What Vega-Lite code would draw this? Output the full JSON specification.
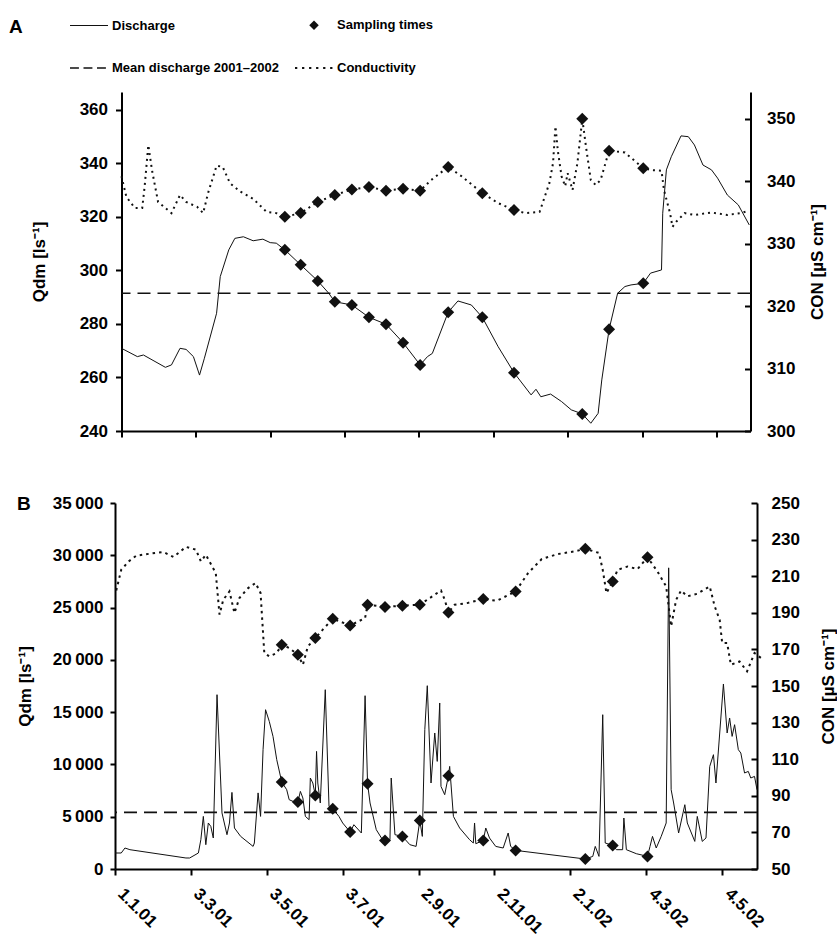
{
  "$schema": "https://vega.github.io/schema/vega-lite/v6.json",
  "background": "white",
  "autosize": {"type": "pad"},
  "padding": {"left": 9, "top": 5, "right": 0, "bottom": 0},
  "config": {
    "view": {"stroke": null},
    "font": "Liberation Sans",
    "axis": {
      "labelFont": "Liberation Sans", "labelFontSize": 17, "labelFontWeight": "bold", "labelColor": "black",
      "titleFont": "Liberation Sans", "titleFontSize": 17, "titleFontWeight": "bold", "titleColor": "black",
      "domainColor": "black", "domainWidth": 2, "tickColor": "black", "tickWidth": 2,
      "grid": false, "labelFlush": false, "labelOverlap": false
    },
    "title": {"font": "Liberation Sans", "fontSize": 19, "fontWeight": "bold", "color": "black"}
  },
  "datasets": {
    "qA": [
      {"date": "2001-01-01", "Q": 270.9}, {"date": "2001-01-14", "Q": 267.8}, {"date": "2001-01-19", "Q": 268.4},
      {"date": "2001-02-06", "Q": 263.8}, {"date": "2001-02-11", "Q": 264.7}, {"date": "2001-02-18", "Q": 270.9},
      {"date": "2001-02-23", "Q": 270.5}, {"date": "2001-03-01", "Q": 267.8}, {"date": "2001-03-06", "Q": 260.9},
      {"date": "2001-03-10", "Q": 267.2}, {"date": "2001-03-20", "Q": 284.0}, {"date": "2001-03-23", "Q": 297.7},
      {"date": "2001-03-30", "Q": 307.7}, {"date": "2001-04-04", "Q": 312.0}, {"date": "2001-04-11", "Q": 312.6},
      {"date": "2001-04-19", "Q": 311.1}, {"date": "2001-04-27", "Q": 311.7}, {"date": "2001-05-03", "Q": 310.4},
      {"date": "2001-05-08", "Q": 310.2}, {"date": "2001-05-15", "Q": 307.7}, {"date": "2001-05-28", "Q": 302.1},
      {"date": "2001-06-11", "Q": 296.1}, {"date": "2001-06-20", "Q": 291.5}, {"date": "2001-06-25", "Q": 288.3},
      {"date": "2001-07-09", "Q": 287.1}, {"date": "2001-07-23", "Q": 282.5}, {"date": "2001-08-06", "Q": 279.9},
      {"date": "2001-08-20", "Q": 273.0}, {"date": "2001-09-03", "Q": 264.7}, {"date": "2001-09-09", "Q": 267.8},
      {"date": "2001-09-13", "Q": 269.0}, {"date": "2001-09-26", "Q": 284.4}, {"date": "2001-10-04", "Q": 288.6},
      {"date": "2001-10-15", "Q": 287.1}, {"date": "2001-10-24", "Q": 282.5}, {"date": "2001-11-06", "Q": 271.5},
      {"date": "2001-11-19", "Q": 261.8}, {"date": "2001-12-03", "Q": 253.5}, {"date": "2001-12-07", "Q": 255.6},
      {"date": "2001-12-11", "Q": 252.8}, {"date": "2001-12-19", "Q": 253.8}, {"date": "2001-12-28", "Q": 251.0},
      {"date": "2002-01-05", "Q": 247.9}, {"date": "2002-01-14", "Q": 246.4}, {"date": "2002-01-21", "Q": 242.9},
      {"date": "2002-01-27", "Q": 246.6}, {"date": "2002-01-30", "Q": 259.1}, {"date": "2002-02-05", "Q": 278.0},
      {"date": "2002-02-12", "Q": 291.5}, {"date": "2002-02-18", "Q": 294.0}, {"date": "2002-02-23", "Q": 294.6},
      {"date": "2002-03-05", "Q": 295.2}, {"date": "2002-03-11", "Q": 299.0}, {"date": "2002-03-20", "Q": 300.2},
      {"date": "2002-03-21", "Q": 321.4}, {"date": "2002-03-24", "Q": 337.6}, {"date": "2002-03-28", "Q": 342.5},
      {"date": "2002-04-05", "Q": 350.3}, {"date": "2002-04-11", "Q": 350.0}, {"date": "2002-04-16", "Q": 346.9},
      {"date": "2002-04-23", "Q": 339.4}, {"date": "2002-04-30", "Q": 337.6}, {"date": "2002-05-05", "Q": 334.5},
      {"date": "2002-05-13", "Q": 328.2}, {"date": "2002-05-22", "Q": 324.5}, {"date": "2002-05-31", "Q": 317.0}
    ],
    "conA": [
      {"date": "2001-01-01", "CON": 340.8}, {"date": "2001-01-05", "CON": 337.5}, {"date": "2001-01-12", "CON": 335.7},
      {"date": "2001-01-18", "CON": 335.7}, {"date": "2001-01-20", "CON": 339.2}, {"date": "2001-01-23", "CON": 345.8},
      {"date": "2001-01-26", "CON": 341.8}, {"date": "2001-01-31", "CON": 336.7}, {"date": "2001-02-11", "CON": 334.9},
      {"date": "2001-02-18", "CON": 337.8}, {"date": "2001-02-23", "CON": 336.7}, {"date": "2001-03-04", "CON": 335.9},
      {"date": "2001-03-09", "CON": 334.9}, {"date": "2001-03-13", "CON": 338.1}, {"date": "2001-03-20", "CON": 342.5},
      {"date": "2001-03-25", "CON": 342.3}, {"date": "2001-03-31", "CON": 339.7}, {"date": "2001-04-08", "CON": 338.4},
      {"date": "2001-04-19", "CON": 337.2}, {"date": "2001-04-30", "CON": 335.1}, {"date": "2001-05-08", "CON": 334.9},
      {"date": "2001-05-15", "CON": 334.3}, {"date": "2001-05-28", "CON": 334.9}, {"date": "2001-06-11", "CON": 336.7},
      {"date": "2001-06-25", "CON": 337.8}, {"date": "2001-07-09", "CON": 338.7}, {"date": "2001-07-23", "CON": 339.1},
      {"date": "2001-08-06", "CON": 338.5}, {"date": "2001-08-20", "CON": 338.8}, {"date": "2001-09-03", "CON": 338.5},
      {"date": "2001-09-12", "CON": 340.2}, {"date": "2001-09-26", "CON": 342.3}, {"date": "2001-10-07", "CON": 340.8},
      {"date": "2001-10-24", "CON": 338.1}, {"date": "2001-11-06", "CON": 336.5}, {"date": "2001-11-19", "CON": 335.4},
      {"date": "2001-11-28", "CON": 334.9}, {"date": "2001-12-10", "CON": 335.1}, {"date": "2001-12-18", "CON": 339.7},
      {"date": "2001-12-21", "CON": 342.9}, {"date": "2001-12-23", "CON": 348.8}, {"date": "2001-12-25", "CON": 344.8},
      {"date": "2001-12-28", "CON": 340.8}, {"date": "2001-12-31", "CON": 339.2}, {"date": "2002-01-02", "CON": 341.3},
      {"date": "2002-01-06", "CON": 338.6}, {"date": "2002-01-10", "CON": 342.9}, {"date": "2002-01-14", "CON": 350.0},
      {"date": "2002-01-17", "CON": 345.6}, {"date": "2002-01-21", "CON": 340.2}, {"date": "2002-01-25", "CON": 339.4},
      {"date": "2002-01-29", "CON": 340.2}, {"date": "2002-02-05", "CON": 344.9}, {"date": "2002-02-18", "CON": 344.6},
      {"date": "2002-03-05", "CON": 342.1}, {"date": "2002-03-11", "CON": 341.8}, {"date": "2002-03-20", "CON": 341.7},
      {"date": "2002-03-22", "CON": 338.6}, {"date": "2002-03-27", "CON": 334.9}, {"date": "2002-03-29", "CON": 332.7},
      {"date": "2002-04-01", "CON": 333.5}, {"date": "2002-04-08", "CON": 334.9}, {"date": "2002-04-16", "CON": 334.6},
      {"date": "2002-04-30", "CON": 335.0}, {"date": "2002-05-13", "CON": 334.6}, {"date": "2002-05-24", "CON": 334.9},
      {"date": "2002-05-31", "CON": 335.3}
    ],
    "sampA": [
      {"date": "2001-05-15", "Q": 307.7, "CON": 334.3}, {"date": "2001-05-28", "Q": 302.1, "CON": 334.9},
      {"date": "2001-06-11", "Q": 296.1, "CON": 336.7}, {"date": "2001-06-25", "Q": 288.3, "CON": 337.8},
      {"date": "2001-07-09", "Q": 287.1, "CON": 338.7}, {"date": "2001-07-23", "Q": 282.5, "CON": 339.1},
      {"date": "2001-08-06", "Q": 279.9, "CON": 338.5}, {"date": "2001-08-20", "Q": 273.0, "CON": 338.8},
      {"date": "2001-09-03", "Q": 264.7, "CON": 338.5}, {"date": "2001-09-26", "Q": 284.4, "CON": 342.3},
      {"date": "2001-10-24", "Q": 282.5, "CON": 338.1}, {"date": "2001-11-19", "Q": 261.8, "CON": 335.4},
      {"date": "2002-01-14", "Q": 246.4, "CON": 350.0}, {"date": "2002-02-05", "Q": 278.0, "CON": 344.9},
      {"date": "2002-03-05", "Q": 295.2, "CON": 342.1}
    ],
    "meanA": [{"Q": 291.5}],
    "qB": [
      {"date": "2001-01-01", "Q": 1530}, {"date": "2001-01-06", "Q": 1530}, {"date": "2001-01-09", "Q": 2008},
      {"date": "2001-01-13", "Q": 1846}, {"date": "2001-02-27", "Q": 1052}, {"date": "2001-03-02", "Q": 1052},
      {"date": "2001-03-09", "Q": 1530}, {"date": "2001-03-11", "Q": 2802}, {"date": "2001-03-13", "Q": 5030},
      {"date": "2001-03-15", "Q": 2324}, {"date": "2001-03-17", "Q": 4399}, {"date": "2001-03-19", "Q": 4074},
      {"date": "2001-03-21", "Q": 2965}, {"date": "2001-03-24", "Q": 16668}, {"date": "2001-03-28", "Q": 5355},
      {"date": "2001-04-01", "Q": 3280}, {"date": "2001-04-03", "Q": 4399}, {"date": "2001-04-05", "Q": 7325},
      {"date": "2001-04-07", "Q": 3921}, {"date": "2001-04-12", "Q": 3118}, {"date": "2001-04-22", "Q": 2161},
      {"date": "2001-04-23", "Q": 2486}, {"date": "2001-04-26", "Q": 7277}, {"date": "2001-04-28", "Q": 5030},
      {"date": "2001-04-30", "Q": 11409}, {"date": "2001-05-02", "Q": 15234}, {"date": "2001-05-05", "Q": 14115},
      {"date": "2001-05-08", "Q": 12681}, {"date": "2001-05-11", "Q": 10452}, {"date": "2001-05-15", "Q": 8320},
      {"date": "2001-05-19", "Q": 7583}, {"date": "2001-05-21", "Q": 6627}, {"date": "2001-05-27", "Q": 6312},
      {"date": "2001-05-28", "Q": 6407}, {"date": "2001-05-30", "Q": 7421}, {"date": "2001-06-01", "Q": 6790},
      {"date": "2001-06-03", "Q": 5030}, {"date": "2001-06-06", "Q": 4715}, {"date": "2001-06-07", "Q": 8702},
      {"date": "2001-06-09", "Q": 8224}, {"date": "2001-06-11", "Q": 7040}, {"date": "2001-06-12", "Q": 11246},
      {"date": "2001-06-13", "Q": 8224}, {"date": "2001-06-15", "Q": 6312}, {"date": "2001-06-19", "Q": 17146},
      {"date": "2001-06-22", "Q": 5986}, {"date": "2001-06-25", "Q": 5766}, {"date": "2001-06-30", "Q": 5030},
      {"date": "2001-07-03", "Q": 4399}, {"date": "2001-07-09", "Q": 3538}, {"date": "2001-07-12", "Q": 4236},
      {"date": "2001-07-18", "Q": 3443}, {"date": "2001-07-21", "Q": 16573}, {"date": "2001-07-23", "Q": 8157},
      {"date": "2001-07-25", "Q": 6312}, {"date": "2001-07-30", "Q": 3758}, {"date": "2001-08-04", "Q": 2802},
      {"date": "2001-08-06", "Q": 2735}, {"date": "2001-08-10", "Q": 2802}, {"date": "2001-08-11", "Q": 8702},
      {"date": "2001-08-14", "Q": 3280}, {"date": "2001-08-20", "Q": 3118}, {"date": "2001-08-26", "Q": 2324},
      {"date": "2001-08-31", "Q": 2161}, {"date": "2001-09-03", "Q": 4648}, {"date": "2001-09-05", "Q": 3118},
      {"date": "2001-09-07", "Q": 13321}, {"date": "2001-09-09", "Q": 17529}, {"date": "2001-09-12", "Q": 8224},
      {"date": "2001-09-15", "Q": 13006}, {"date": "2001-09-17", "Q": 10290}, {"date": "2001-09-19", "Q": 15875},
      {"date": "2001-09-20", "Q": 7899}, {"date": "2001-09-23", "Q": 7105}, {"date": "2001-09-26", "Q": 8922},
      {"date": "2001-09-27", "Q": 9812}, {"date": "2001-09-30", "Q": 5030}, {"date": "2001-10-05", "Q": 3921},
      {"date": "2001-10-13", "Q": 2802}, {"date": "2001-10-16", "Q": 2486}, {"date": "2001-10-17", "Q": 4399},
      {"date": "2001-10-18", "Q": 2419}, {"date": "2001-10-24", "Q": 2735}, {"date": "2001-10-26", "Q": 3921},
      {"date": "2001-10-29", "Q": 2965}, {"date": "2001-11-03", "Q": 2161}, {"date": "2001-11-09", "Q": 2008},
      {"date": "2001-11-13", "Q": 3443}, {"date": "2001-11-15", "Q": 2161}, {"date": "2001-11-19", "Q": 1779},
      {"date": "2002-01-14", "Q": 956}, {"date": "2002-01-20", "Q": 1205}, {"date": "2002-01-22", "Q": 2161},
      {"date": "2002-01-25", "Q": 1205}, {"date": "2002-01-28", "Q": 14756}, {"date": "2002-01-30", "Q": 2486},
      {"date": "2002-02-05", "Q": 2257}, {"date": "2002-02-08", "Q": 1846}, {"date": "2002-02-13", "Q": 1846},
      {"date": "2002-02-14", "Q": 4877}, {"date": "2002-02-16", "Q": 1846}, {"date": "2002-02-24", "Q": 1463},
      {"date": "2002-03-05", "Q": 1205}, {"date": "2002-03-07", "Q": 2161}, {"date": "2002-03-09", "Q": 3118},
      {"date": "2002-03-12", "Q": 2008}, {"date": "2002-03-16", "Q": 3118}, {"date": "2002-03-20", "Q": 4399},
      {"date": "2002-03-22", "Q": 28800}, {"date": "2002-03-24", "Q": 7583}, {"date": "2002-03-26", "Q": 6312},
      {"date": "2002-03-30", "Q": 3443}, {"date": "2002-04-04", "Q": 6149}, {"date": "2002-04-06", "Q": 4399},
      {"date": "2002-04-12", "Q": 2640}, {"date": "2002-04-14", "Q": 5030}, {"date": "2002-04-18", "Q": 2640},
      {"date": "2002-04-21", "Q": 2965}, {"date": "2002-04-24", "Q": 9812}, {"date": "2002-04-27", "Q": 10930},
      {"date": "2002-04-29", "Q": 8224}, {"date": "2002-05-05", "Q": 17692}, {"date": "2002-05-08", "Q": 13006},
      {"date": "2002-05-10", "Q": 14440}, {"date": "2002-05-12", "Q": 12681}, {"date": "2002-05-14", "Q": 13799},
      {"date": "2002-05-17", "Q": 11409}, {"date": "2002-05-19", "Q": 11093}, {"date": "2002-05-22", "Q": 9180},
      {"date": "2002-05-25", "Q": 9334}, {"date": "2002-05-27", "Q": 8702}, {"date": "2002-05-30", "Q": 8855},
      {"date": "2002-06-01", "Q": 7583}
    ],
    "conB": [
      {"date": "2001-01-02", "CON": 202.2}, {"date": "2001-01-06", "CON": 213.5}, {"date": "2001-01-12", "CON": 218.1},
      {"date": "2001-01-18", "CON": 221.2}, {"date": "2001-01-29", "CON": 222.3}, {"date": "2001-02-09", "CON": 223.2},
      {"date": "2001-02-17", "CON": 220.5}, {"date": "2001-02-27", "CON": 226.0}, {"date": "2001-03-07", "CON": 224.5},
      {"date": "2001-03-11", "CON": 218.1}, {"date": "2001-03-15", "CON": 221.7}, {"date": "2001-03-23", "CON": 211.7},
      {"date": "2001-03-26", "CON": 189.0}, {"date": "2001-03-29", "CON": 197.1}, {"date": "2001-04-03", "CON": 201.7},
      {"date": "2001-04-07", "CON": 189.9}, {"date": "2001-04-11", "CON": 198.1}, {"date": "2001-04-18", "CON": 203.5},
      {"date": "2001-04-24", "CON": 206.3}, {"date": "2001-04-28", "CON": 200.8}, {"date": "2001-05-01", "CON": 168.0},
      {"date": "2001-05-05", "CON": 166.2}, {"date": "2001-05-11", "CON": 168.0}, {"date": "2001-05-15", "CON": 172.6},
      {"date": "2001-05-21", "CON": 170.8}, {"date": "2001-05-28", "CON": 167.1}, {"date": "2001-06-01", "CON": 161.6},
      {"date": "2001-06-05", "CON": 171.6}, {"date": "2001-06-11", "CON": 176.2}, {"date": "2001-06-17", "CON": 180.8},
      {"date": "2001-06-25", "CON": 186.7}, {"date": "2001-07-09", "CON": 183.1}, {"date": "2001-07-21", "CON": 187.1},
      {"date": "2001-07-23", "CON": 194.4}, {"date": "2001-08-06", "CON": 193.2}, {"date": "2001-08-20", "CON": 193.9},
      {"date": "2001-09-03", "CON": 194.4}, {"date": "2001-09-20", "CON": 202.2}, {"date": "2001-09-23", "CON": 197.1},
      {"date": "2001-09-26", "CON": 190.2}, {"date": "2001-10-01", "CON": 194.4}, {"date": "2001-10-11", "CON": 195.3},
      {"date": "2001-10-24", "CON": 197.5}, {"date": "2001-11-04", "CON": 196.6}, {"date": "2001-11-19", "CON": 201.7},
      {"date": "2001-11-29", "CON": 211.7}, {"date": "2001-12-10", "CON": 219.4}, {"date": "2001-12-23", "CON": 222.1},
      {"date": "2002-01-05", "CON": 223.5}, {"date": "2002-01-14", "CON": 225.0}, {"date": "2002-01-25", "CON": 222.7},
      {"date": "2002-01-28", "CON": 213.5}, {"date": "2002-01-31", "CON": 200.8}, {"date": "2002-02-05", "CON": 207.1},
      {"date": "2002-02-09", "CON": 213.5}, {"date": "2002-02-17", "CON": 215.3}, {"date": "2002-02-25", "CON": 213.9},
      {"date": "2002-03-05", "CON": 220.3}, {"date": "2002-03-13", "CON": 212.6}, {"date": "2002-03-20", "CON": 204.4},
      {"date": "2002-03-24", "CON": 182.6}, {"date": "2002-03-28", "CON": 197.1}, {"date": "2002-04-01", "CON": 202.2},
      {"date": "2002-04-06", "CON": 199.0}, {"date": "2002-04-14", "CON": 200.4}, {"date": "2002-04-24", "CON": 204.4},
      {"date": "2002-04-28", "CON": 193.5}, {"date": "2002-05-02", "CON": 186.2}, {"date": "2002-05-04", "CON": 173.5},
      {"date": "2002-05-08", "CON": 173.5}, {"date": "2002-05-11", "CON": 161.6}, {"date": "2002-05-18", "CON": 163.4},
      {"date": "2002-05-24", "CON": 158.0}, {"date": "2002-05-30", "CON": 168.0}, {"date": "2002-06-06", "CON": 164.4}
    ],
    "sampB": [
      {"date": "2001-05-15", "Q": 8320, "CON": 172.6}, {"date": "2001-05-28", "Q": 6407, "CON": 167.1},
      {"date": "2001-06-11", "Q": 7040, "CON": 176.2}, {"date": "2001-06-25", "Q": 5766, "CON": 186.7},
      {"date": "2001-07-09", "Q": 3538, "CON": 183.1}, {"date": "2001-07-23", "Q": 8157, "CON": 194.4},
      {"date": "2001-08-06", "Q": 2735, "CON": 193.2}, {"date": "2001-08-20", "Q": 3118, "CON": 193.9},
      {"date": "2001-09-03", "Q": 4648, "CON": 194.4}, {"date": "2001-09-26", "Q": 8922, "CON": 190.2},
      {"date": "2001-10-24", "Q": 2735, "CON": 197.5}, {"date": "2001-11-19", "Q": 1779, "CON": 201.7},
      {"date": "2002-01-14", "Q": 956, "CON": 225.0}, {"date": "2002-02-05", "Q": 2257, "CON": 207.1},
      {"date": "2002-03-05", "Q": 1205, "CON": 220.3}
    ],
    "meanB": [{"Q": 5413}]
  },
  "spacing": 72,
  "bounds": "flush",
  "center": true,
  "vconcat": [
    {
      "width": 629, "height": 339,
      "title": {"text": "A", "anchor": "start", "frame": "group", "dx": -112.5, "offset": 40, "baseline": "alphabetic"},
      "resolve": {"scale": {"y": "independent"}},
      "layer": [
        {
          "encoding": {"y": {"field": "Q", "type": "quantitative", "scale": {"domain": [240, 366.7], "nice": false, "zero": false},
            "axis": {"orient": "left", "values": [240, 260, 280, 300, 320, 340, 360], "title": "Qdm [ls⁻¹]", "tickSize": 6, "labelPadding": 8, "titlePadding": 31}}},
          "layer": [
            {"data": {"name": "qA"}, "mark": {"type": "line", "color": "#111", "strokeWidth": 1},
             "encoding": {"x": {"field": "date", "type": "temporal", "scale": {"type": "utc", "domain": [{"year": 2001, "month": 1, "date": 1, "utc": true}, {"year": 2002, "month": 6, "date": 1, "utc": true}]},
               "axis": {"values": [{"year": 2001, "month": 1, "date": 1, "utc": true}, {"year": 2001, "month": 3, "date": 3, "utc": true}, {"year": 2001, "month": 5, "date": 3, "utc": true}, {"year": 2001, "month": 7, "date": 3, "utc": true}, {"year": 2001, "month": 9, "date": 2, "utc": true}, {"year": 2001, "month": 11, "date": 2, "utc": true}, {"year": 2002, "month": 1, "date": 2, "utc": true}, {"year": 2002, "month": 3, "date": 4, "utc": true}, {"year": 2002, "month": 5, "date": 4, "utc": true}], "labels": false, "title": null, "tickSize": 6}}}},
            {"data": {"name": "meanA"}, "mark": {"type": "rule", "color": "#111", "strokeWidth": 1.6, "strokeDash": [13, 7]}, "encoding": {}},
            {"data": {"name": "sampA"}, "mark": {"type": "point", "shape": "diamond", "filled": true, "size": 144, "color": "#111", "opacity": 1},
             "encoding": {"x": {"field": "date", "type": "temporal"}}}
          ]
        },
        {
          "encoding": {"y": {"field": "CON", "type": "quantitative", "scale": {"domain": [300, 354.3], "nice": false, "zero": false},
            "axis": {"orient": "right", "values": [300, 310, 320, 330, 340, 350], "title": "CON [µS cm⁻¹]", "titleAngle": -90, "tickSize": -6, "labelPadding": 22, "titlePadding": 32}}},
          "layer": [
            {"data": {"name": "conA"}, "mark": {"type": "line", "color": "#111", "strokeWidth": 2, "strokeDash": [2, 4]},
             "encoding": {"x": {"field": "date", "type": "temporal"}}},
            {"data": {"name": "sampA"}, "mark": {"type": "point", "filled": true, "size": 2304, "color": "#111", "opacity": 1},
             "encoding": {
               "x": {"field": "date", "type": "temporal"},
               "shape": {"datum": "Sampling times", "type": "nominal",
                 "scale": {"domain": ["Discharge", "Mean discharge 2001–2002", "Sampling times", "Conductivity"],
                   "range": [
                     "M-1,-0.03H1V0.03H-1Z",
                     "M-1,-0.04H-0.53V0.04H-1Z M-0.29,-0.04H0.18V0.04H-0.29Z M0.42,-0.04H0.89V0.04H0.42Z",
                     "M0,-0.25L0.25,0L0,0.25L-0.25,0Z",
                     "M-1,-0.05H-0.88V0.05H-1Z M-0.63,-0.05H-0.51V0.05H-0.63Z M-0.26,-0.05H-0.14V0.05H-0.26Z M0.11,-0.05H0.23V0.05H0.11Z M0.48,-0.05H0.6V0.05H0.48Z M0.85,-0.05H0.97V0.05H0.85Z"
                   ]},
                 "legend": {
                   "orient": "none", "legendX": -46, "legendY": -87, "columns": 2, "title": null,
                   "symbolSize": 1444, "symbolFillColor": "#111", "symbolOpacity": 1,
                   "labelFont": "Liberation Sans", "labelFontSize": 13, "labelFontWeight": "bold", "labelColor": "black",
                   "labelOffset": 3, "columnPadding": 13, "rowPadding": 15, "labelLimit": 400
                 }}
             }}
          ]
        }
      ]
    },
    {
      "width": 642, "height": 366,
      "title": {"text": "B", "anchor": "start", "frame": "group", "dx": -98, "offset": -35, "baseline": "alphabetic"},
      "resolve": {"scale": {"y": "independent"}},
      "layer": [
        {
          "encoding": {"y": {"field": "Q", "type": "quantitative", "scale": {"domain": [0, 35000], "nice": false},
            "axis": {"orient": "left", "values": [0, 5000, 10000, 15000, 20000, 25000, 30000, 35000], "labelExpr": "replace(format(datum.value, ','), ',', '\u2009')", "title": "Qdm [ls⁻¹]", "tickSize": 5, "labelPadding": 7, "titlePadding": 18}}},
          "layer": [
            {"data": {"name": "qB"}, "mark": {"type": "line", "color": "#111", "strokeWidth": 1},
             "encoding": {"x": {"field": "date", "type": "temporal", "scale": {"type": "utc", "domain": [{"year": 2001, "month": 1, "date": 1, "utc": true}, {"year": 2002, "month": 6, "date": 1, "utc": true}]},
               "axis": {"values": [{"year": 2001, "month": 1, "date": 1, "utc": true}, {"year": 2001, "month": 3, "date": 3, "utc": true}, {"year": 2001, "month": 5, "date": 3, "utc": true}, {"year": 2001, "month": 7, "date": 3, "utc": true}, {"year": 2001, "month": 9, "date": 2, "utc": true}, {"year": 2001, "month": 11, "date": 2, "utc": true}, {"year": 2002, "month": 1, "date": 2, "utc": true}, {"year": 2002, "month": 3, "date": 4, "utc": true}, {"year": 2002, "month": 5, "date": 4, "utc": true}], "labelExpr": "utcFormat(datum.value, '%-d.%-m.%y')", "labelAngle": 45, "labelAlign": "left", "labelBaseline": "middle", "labelPadding": 16, "labelOffset": 5, "title": null, "tickSize": 6}}}},
            {"data": {"name": "meanB"}, "mark": {"type": "rule", "color": "#111", "strokeWidth": 1.6, "strokeDash": [13, 7]}, "encoding": {}},
            {"data": {"name": "sampB"}, "mark": {"type": "point", "shape": "diamond", "filled": true, "size": 144, "color": "#111", "opacity": 1},
             "encoding": {"x": {"field": "date", "type": "temporal"}}}
          ]
        },
        {
          "encoding": {"y": {"field": "CON", "type": "quantitative", "scale": {"domain": [50, 250], "nice": false, "zero": false},
            "axis": {"orient": "right", "values": [50, 70, 90, 110, 130, 150, 170, 190, 210, 230, 250], "title": "CON [µS cm⁻¹]", "titleAngle": -90, "tickSize": -6, "labelPadding": 20, "titlePadding": 38}}},
          "layer": [
            {"data": {"name": "conB"}, "mark": {"type": "line", "color": "#111", "strokeWidth": 2, "strokeDash": [2.5, 4]},
             "encoding": {"x": {"field": "date", "type": "temporal"}}},
            {"data": {"name": "sampB"}, "mark": {"type": "point", "shape": "diamond", "filled": true, "size": 144, "color": "#111", "opacity": 1},
             "encoding": {"x": {"field": "date", "type": "temporal"}}}
          ]
        }
      ]
    }
  ]
}
